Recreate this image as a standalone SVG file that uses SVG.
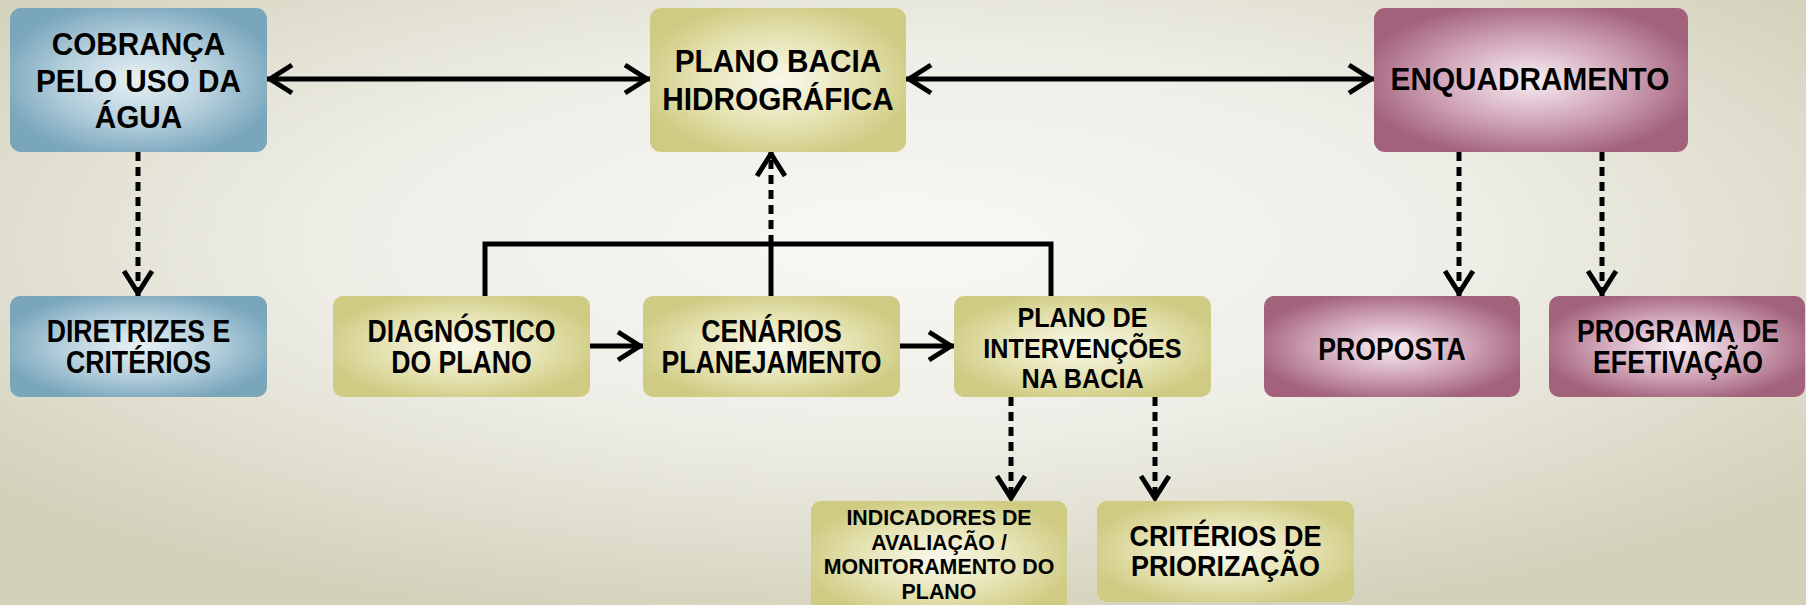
<svg xmlns="http://www.w3.org/2000/svg" width="1806" height="605" viewBox="0 0 1806 605">
<defs>
<style>
.t{font-family:"Liberation Sans",Arial,sans-serif;font-weight:bold;fill:#000;text-anchor:middle}
.t1{font-size:32px}
.t2{font-size:31px}
.line{fill:none;stroke:#000;stroke-width:5}
.dash{fill:none;stroke:#000;stroke-width:5;stroke-dasharray:9 6}
</style>
<radialGradient id="bg" cx="50%" cy="40%" r="65%">
<stop offset="0" stop-color="#f8f8f5"/>
<stop offset="0.5" stop-color="#eeede6"/>
<stop offset="1" stop-color="#d3d1ba"/>
</radialGradient>
<radialGradient id="gBlue" cx="50%" cy="50%" r="55%">
<stop offset="0" stop-color="#e8f1f4"/>
<stop offset="0.55" stop-color="#b3cedb"/>
<stop offset="1" stop-color="#7aa6bc"/>
</radialGradient>
<radialGradient id="gYel" cx="50%" cy="50%" r="55%">
<stop offset="0" stop-color="#f9f9ec"/>
<stop offset="0.55" stop-color="#e6e3b4"/>
<stop offset="1" stop-color="#cfcb82"/>
</radialGradient>
<radialGradient id="gPink" cx="50%" cy="50%" r="55%">
<stop offset="0" stop-color="#f8eff4"/>
<stop offset="0.55" stop-color="#cfa3b6"/>
<stop offset="1" stop-color="#a2627b"/>
</radialGradient>
<marker id="arr" markerUnits="userSpaceOnUse" viewBox="-30 -20 40 40" markerWidth="40" markerHeight="40" refX="3" refY="0" orient="auto-start-reverse" overflow="visible">
<path d="M-22,-14 L0,0 L-22,14" fill="none" stroke="#000" stroke-width="5" stroke-dasharray="none" stroke-linejoin="miter"/>
</marker>
</defs>
<rect x="0" y="0" width="1806" height="605" fill="url(#bg)"/>

<g id="connectors">
<line class="line" x1="267" y1="79" x2="650" y2="79" marker-start="url(#arr)" marker-end="url(#arr)"/>
<line class="line" x1="906" y1="79" x2="1374" y2="79" marker-start="url(#arr)" marker-end="url(#arr)"/>
<line class="dash" x1="138" y1="152" x2="138" y2="296" marker-end="url(#arr)"/>
<line class="dash" x1="1459" y1="152" x2="1459" y2="296" marker-end="url(#arr)"/>
<line class="dash" x1="1602" y1="152" x2="1602" y2="296" marker-end="url(#arr)"/>
<path class="line" d="M485,296 V244 H1051 V296"/>
<line class="line" x1="771" y1="296" x2="771" y2="244"/>
<line class="dash" x1="771" y1="244" x2="771" y2="151" marker-end="url(#arr)"/>
<line class="line" x1="590" y1="346" x2="643" y2="346" marker-end="url(#arr)"/>
<line class="line" x1="900" y1="346" x2="954" y2="346" marker-end="url(#arr)"/>
<line class="dash" x1="1011" y1="397" x2="1011" y2="501" marker-end="url(#arr)"/>
<line class="dash" x1="1155" y1="397" x2="1155" y2="501" marker-end="url(#arr)"/>
</g>

<g id="cobranca">
<rect x="10" y="8" width="257" height="144" rx="11" fill="url(#gBlue)"/>
<text class="t t1" transform="translate(138.5 0) scale(0.93 1)"><tspan x="0" y="55">COBRANÇA</tspan><tspan x="0" y="92">PELO USO DA</tspan><tspan x="0" y="128">ÁGUA</tspan></text>
</g>
<g id="plano-bacia">
<rect x="650" y="8" width="256" height="144" rx="11" fill="url(#gYel)"/>
<text class="t t1" transform="translate(778 0) scale(0.93 1)"><tspan x="0" y="72">PLANO BACIA</tspan><tspan x="0" y="110">HIDROGRÁFICA</tspan></text>
</g>
<g id="enquadramento">
<rect x="1374" y="8" width="314" height="144" rx="11" fill="url(#gPink)"/>
<text class="t t1" transform="translate(1530 0) scale(0.93 1)"><tspan x="0" y="90">ENQUADRAMENTO</tspan></text>
</g>
<g id="diretrizes">
<rect x="10" y="296" width="257" height="101" rx="10" fill="url(#gBlue)"/>
<text class="t t2" transform="translate(138.5 0) scale(0.86 1)"><tspan x="0" y="342">DIRETRIZES E</tspan><tspan x="0" y="373">CRITÉRIOS</tspan></text>
</g>
<g id="diagnostico">
<rect x="333" y="296" width="257" height="101" rx="10" fill="url(#gYel)"/>
<text class="t t2" transform="translate(461.5 0) scale(0.86 1)"><tspan x="0" y="342">DIAGNÓSTICO</tspan><tspan x="0" y="373">DO PLANO</tspan></text>
</g>
<g id="cenarios">
<rect x="643" y="296" width="257" height="101" rx="10" fill="url(#gYel)"/>
<text class="t t2" transform="translate(771.5 0) scale(0.86 1)"><tspan x="0" y="342">CENÁRIOS</tspan><tspan x="0" y="373">PLANEJAMENTO</tspan></text>
</g>
<g id="plano-intervencoes">
<rect x="954" y="296" width="257" height="101" rx="10" fill="url(#gYel)"/>
<text class="t" style="font-size:28px" transform="translate(1082.5 0) scale(0.9 1)"><tspan x="0" y="327">PLANO DE</tspan><tspan x="0" y="358">INTERVENÇÕES</tspan><tspan x="0" y="388">NA BACIA</tspan></text>
</g>
<g id="proposta">
<rect x="1264" y="296" width="256" height="101" rx="10" fill="url(#gPink)"/>
<text class="t t2" transform="translate(1392 0) scale(0.86 1)"><tspan x="0" y="360">PROPOSTA</tspan></text>
</g>
<g id="programa">
<rect x="1549" y="296" width="256" height="101" rx="10" fill="url(#gPink)"/>
<text class="t t2" transform="translate(1678 0) scale(0.86 1)"><tspan x="0" y="342">PROGRAMA DE</tspan><tspan x="0" y="373">EFETIVAÇÃO</tspan></text>
</g>
<g id="indicadores">
<rect x="811" y="501" width="256" height="115" rx="10" fill="url(#gYel)"/>
<text class="t" style="font-size:22.5px" transform="translate(939 0) scale(0.95 1)"><tspan x="0" y="525">INDICADORES DE</tspan><tspan x="0" y="550">AVALIAÇÃO /</tspan><tspan x="0" y="574">MONITORAMENTO DO</tspan><tspan x="0" y="599">PLANO</tspan></text>
</g>
<g id="criterios-priorizacao">
<rect x="1097" y="501" width="257" height="101" rx="10" fill="url(#gYel)"/>
<text class="t" style="font-size:29px" transform="translate(1225.5 0) scale(0.93 1)"><tspan x="0" y="546">CRITÉRIOS DE</tspan><tspan x="0" y="576">PRIORIZAÇÃO</tspan></text>
</g>
</svg>
